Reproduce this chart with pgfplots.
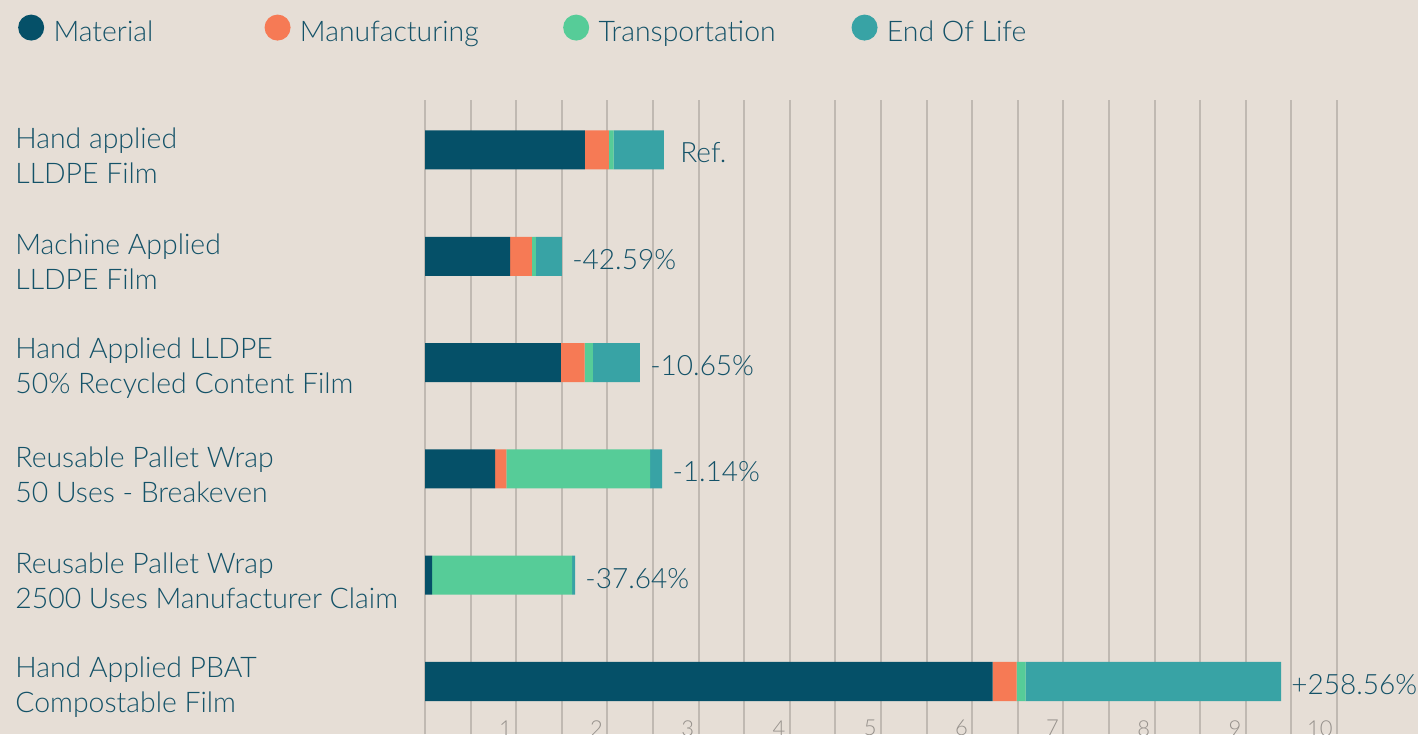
\documentclass[border=0pt]{standalone}
\usepackage{fontspec}
\setmainfont{Lato Light}
\usepackage{pgfplots}
\pgfplotsset{compat=1.18}
\definecolor{bg}{RGB}{230,222,214}
\definecolor{matc}{RGB}{5,80,104}
\definecolor{manc}{RGB}{246,122,85}
\definecolor{trac}{RGB}{86,204,152}
\definecolor{eolc}{RGB}{56,163,165}
\definecolor{txt}{RGB}{20,82,104}
\definecolor{gridc}{RGB}{192,185,178}
\definecolor{tickc}{RGB}{150,145,140}
\begin{document}
\begin{tikzpicture}
\fill[bg] (0,0) rectangle (709pt,-367pt);
\begin{axis}[
  at={(212.5pt,-50pt)}, anchor=north west,
  scale only axis, width=456pt, height=317pt,
  xbar stacked, bar width=19.5pt,
  xmin=0, xmax=10, ymin=-5.494, ymax=0.47,
  axis line style={draw=none},
  major tick length=0pt, minor tick length=0pt,
  xtick={1,...,10},
  minor xtick={0,0.5,1.5,2.5,3.5,4.5,5.5,6.5,7.5,8.5,9.5},
  xmajorgrids, xminorgrids,
  major grid style={gridc, line width=1pt},
  minor grid style={gridc, line width=1pt},
  ytick={-5,...,0},
  yticklabels={{Hand Applied PBAT\\Compostable Film},{Reusable Pallet Wrap\\2500 Uses Manufacturer Claim},{Reusable Pallet Wrap\\50 Uses - Breakeven},{Hand Applied LLDPE\\50\% Recycled Content Film},{Machine Applied\\LLDPE Film},{Hand applied\\LLDPE Film}},
  yticklabel style={anchor=west, align=left, xshift=-205pt, yshift=-2.8pt, inner sep=0pt, font=\fontsize{14.2}{17.5}\selectfont, text=txt},
  /pgf/number format/assume math mode=true,
  xticklabel style={anchor=north east, inner sep=0pt, xshift=-2pt, yshift=7pt, font=\fontsize{11}{13}\selectfont, text=tickc},
  clip=false,
  legend columns=4,
  legend style={draw=none, fill=none, at={(axis description cs:-0.4531,1.1112)}, anchor=west, nodes={inner sep=0pt}, font=\fontsize{14.2}{17}\selectfont, text=txt, /tikz/every even column/.style={column sep=0pt}},
  legend image code/.code={\fill[#1] (6.5pt,0.25em) circle (6.5pt); \path (0,0) (17.7pt,0);},
]
\addplot[fill=matc, draw=none] coordinates {(1.754,0) (0.932,-1) (1.491,-2) (0.768,-3) (0.077,-4) (6.223,-5)};
\addlegendentry{\makebox[105.5pt][l]{Material}}
\addplot[fill=manc, draw=none] coordinates {(0.263,0) (0.241,-1) (0.260,-2) (0.124,-3) (0,-4) (0.263,-5)};
\addlegendentry{\makebox[131.6pt][l]{Manufacturing}}
\addplot[fill=trac, draw=none] coordinates {(0.051,0) (0.044,-1) (0.091,-2) (1.576,-3) (1.535,-4) (0.100,-5)};
\addlegendentry{\makebox[126.5pt][l]{Transportation}}
\addplot[fill=eolc, draw=none] coordinates {(0.552,0) (0.285,-1) (0.515,-2) (0.132,-3) (0.033,-4) (2.800,-5)};
\addlegendentry{End Of Life}
\addplot[draw=none, fill=none, forget plot, nodes near coords, point meta=explicit symbolic,
  nodes near coords style={anchor=west, inner sep=0pt, xshift=5pt, yshift=-1.5pt, text=txt, font=\fontsize{14}{16}\selectfont}]
  coordinates {(0.0001,0) [\hspace{3pt}Ref.] (0.0001,-1) [-42.59\%] (0.0001,-2) [-10.65\%] (0.0001,-3) [-1.14\%] (0.0001,-4) [-37.64\%] (0.0001,-5) [+258.56\%]};
\end{axis}
\pgfresetboundingbox
\path[use as bounding box] (0,0) rectangle (709pt,-367pt);
\end{tikzpicture}
\end{document}
